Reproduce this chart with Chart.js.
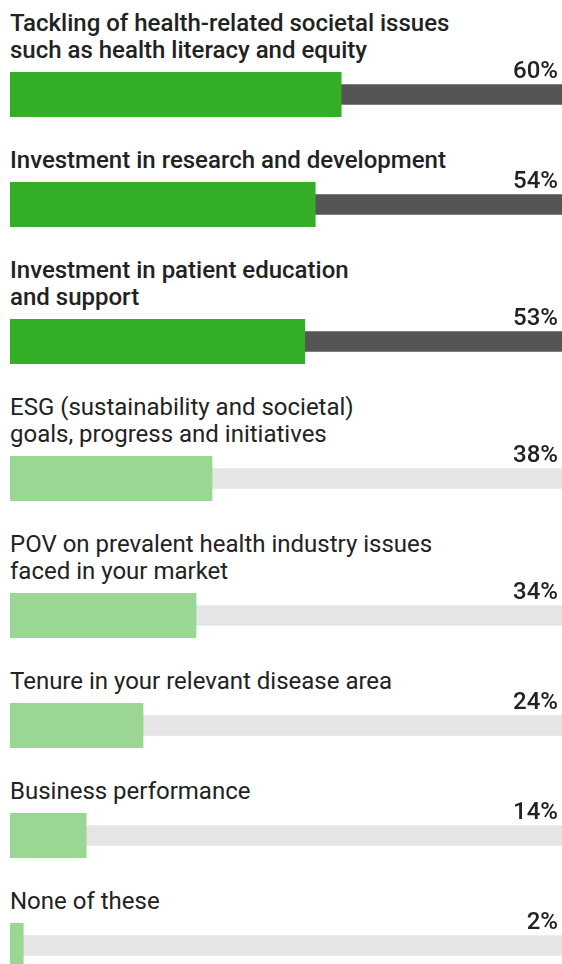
<!DOCTYPE html>
<html>
<head>
<meta charset="utf-8">
<title>Bar rows</title>
<script src="https://cdn.jsdelivr.net/npm/chart.js"></script>
<style>
    body { margin: 0; width: 562px; height: 964px; overflow: hidden; background: #fff; font-family: Roboto, "Open Sans", sans-serif; color: #222; }
    #rows { padding-top: 10px; }
    .row { position: relative; margin-bottom: 30px; }
    .label { margin-left: 10px; font-size: 24px; line-height: 27px; }
    .label.hi { font-weight: 500; }
    .bar { position: relative; margin-top: 8px; margin-left: 10px; width: 552px; height: 45px; }
    .pct { position: absolute; top: -14px; right: 4px; width: 100px; font-size: 24px; line-height: 24px; font-weight: 500; text-align: right; }
</style>
</head>
<body>
<div id="rows"></div>

<script>
    // categories (one entry per line of the label)
    var categories = [
        ['Tackling of health-related societal issues', 'such as health literacy and equity'],
        ['Investment in research and development'],
        ['Investment in patient education', 'and support'],
        ['ESG (sustainability and societal)', 'goals, progress and initiatives'],
        ['POV on prevalent health industry issues', 'faced in your market'],
        ['Tenure in your relevant disease area'],
        ['Business performance'],
        ['None of these']
    ];
    // bar lengths
    var values = [60, 55.3, 53.4, 36.6, 33.7, 24.1, 13.8, 2.4];
    var valueLabels = ['60%', '54%', '53%', '38%', '34%', '24%', '14%', '2%'];
    var highlightCount = 3;

    var rows = document.getElementById('rows');

    categories.forEach(function (lines, i) {
        var hi = i < highlightCount;

        var row = document.createElement('div');
        row.className = 'row';

        var label = document.createElement('div');
        label.className = 'label' + (hi ? ' hi' : '');
        label.innerHTML = lines.join('<br>');
        row.appendChild(label);

        var bar = document.createElement('div');
        bar.className = 'bar';
        var canvas = document.createElement('canvas');
        canvas.width = 552;
        canvas.height = 45;
        bar.appendChild(canvas);

        var pct = document.createElement('div');
        pct.className = 'pct';
        pct.textContent = valueLabels[i];
        bar.appendChild(pct);

        row.appendChild(bar);
        rows.appendChild(row);

        new Chart(canvas.getContext('2d'), {
            type: 'bar',
            data: {
                labels: [lines.join(' ')],
                datasets: [{
                    data: [values[i]],
                    backgroundColor: hi ? '#33ae26' : '#99d793',
                    barThickness: 45,
                    grouped: false
                }, {
                    data: [100],
                    backgroundColor: hi ? '#555555' : '#e5e5e5',
                    barThickness: 20,
                    grouped: false
                }]
            },
            options: {
                indexAxis: 'y',
                responsive: false,
                animation: false,
                layout: { padding: 0 },
                scales: {
                    x: { display: false, min: 0, max: 100 },
                    y: { display: false }
                },
                plugins: {
                    legend: { display: false },
                    tooltip: { enabled: false }
                }
            }
        });
    });
</script>
</body>
</html>
